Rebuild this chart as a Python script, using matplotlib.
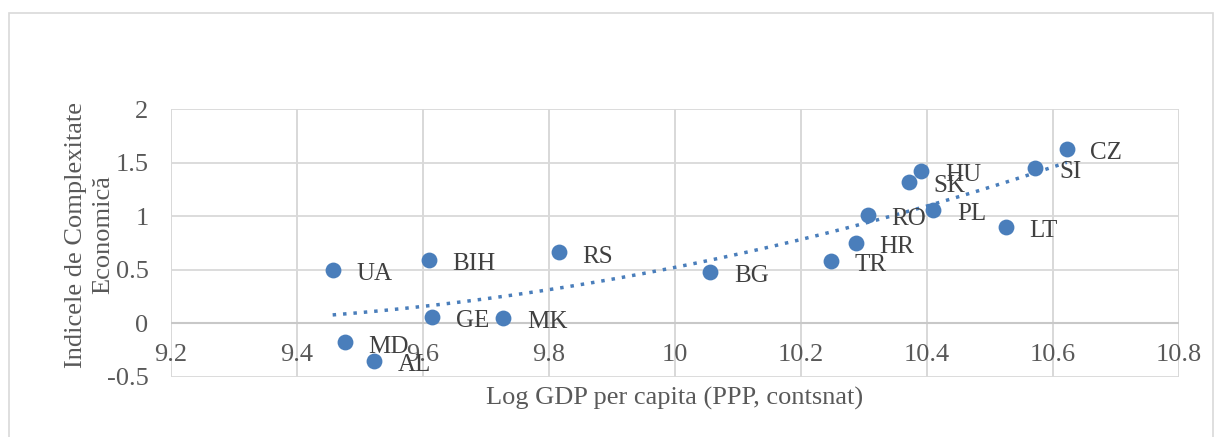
import numpy as np
import matplotlib.pyplot as plt
from matplotlib.patches import Rectangle

countries = ["UA", "MD", "AL", "BIH", "GE", "MK", "RS", "BG", "TR", "HR",
             "RO", "SK", "HU", "PL", "LT", "SI", "CZ"]
log_gdp = [9.457, 9.476, 9.523, 9.610, 9.615, 9.728, 9.816, 10.056, 10.248, 10.287,
           10.306, 10.372, 10.391, 10.410, 10.525, 10.572, 10.622]
eci = [0.50, -0.18, -0.35, 0.59, 0.06, 0.05, 0.66, 0.48, 0.58, 0.75,
       1.01, 1.32, 1.42, 1.06, 0.90, 1.45, 1.63]

x_ticks = [9.2, 9.4, 9.6, 9.8, 10, 10.2, 10.4, 10.6, 10.8]
x_tick_labels = ["9.2", "9.4", "9.6", "9.8", "10", "10.2", "10.4", "10.6", "10.8"]
y_ticks = [-0.5, 0, 0.5, 1, 1.5, 2]
y_tick_labels = ["-0.5", "0", "0.5", "1", "1.5", "2"]

plt.rcParams["font.family"] = ["Liberation Serif", "DejaVu Serif"]

dot_color = "#4A7EBB"
text_color = "#595959"
grid_color = "#D9D9D9"

fig = plt.figure(figsize=(12.19, 4.37), dpi=100, facecolor="white")

# chart area border
fig.patches.append(Rectangle((9 / 1219, -0.05), 1204 / 1219, 1.05 - 13 / 437,
                             transform=fig.transFigure, fill=False,
                             edgecolor="#D9D9D9", linewidth=1.2))

ax = fig.add_axes([170.7 / 1219, 1 - 376.7 / 437, (1179 - 170.7) / 1219, (376.7 - 109) / 437])

ax.set_xlim(9.2, 10.8)
ax.set_ylim(-0.5, 2)

for s in ax.spines.values():
    s.set_visible(False)
ax.spines["bottom"].set_position(("data", 0))

ax.set_xticks(x_ticks)
ax.set_xticklabels(x_tick_labels)
ax.set_yticks(y_ticks)
ax.set_yticklabels(y_tick_labels)
ax.tick_params(axis="x", length=0, pad=15, labelsize=19, labelcolor=text_color)
ax.tick_params(axis="y", length=0, pad=16, labelsize=19, labelcolor=text_color)

ax.grid(True, color=grid_color, linewidth=1.3)
ax.set_axisbelow(True)
ax.axhline(0, color="#C8C8C8", linewidth=1.5, zorder=1)
for xv in x_ticks:
    ax.axvline(xv, color=grid_color, linewidth=1.3, zorder=0.5)

ax.scatter(log_gdp, eci, s=130, color=dot_color, zorder=3, linewidths=0)

# polynomial trend line (order 2)
coef = np.polyfit(log_gdp, eci, 2)
xs = np.linspace(min(log_gdp), max(log_gdp), 200)
ax.plot(xs, np.polyval(coef, xs), linestyle=(0, (1, 2)), color=dot_color,
        linewidth=2.5, zorder=2)

for name, xv, yv in zip(countries, log_gdp, eci):
    ax.annotate(name, (xv, yv), xytext=(17, -3), textcoords="offset points",
                ha="left", va="center", fontsize=18, color="#404040", zorder=4)

fig.text(675 / 1219, 1 - 398 / 437, "Log GDP per capita (PPP, contsnat)",
         ha="center", va="center", fontsize=19, color=text_color)
fig.text(90 / 1219, 1 - 235 / 437, "Indicele de Complexitate\nEconomică",
         ha="center", va="center", rotation=90, fontsize=19, color=text_color,
         linespacing=1.3)

fig.savefig("out.png", dpi=100, facecolor="white")
